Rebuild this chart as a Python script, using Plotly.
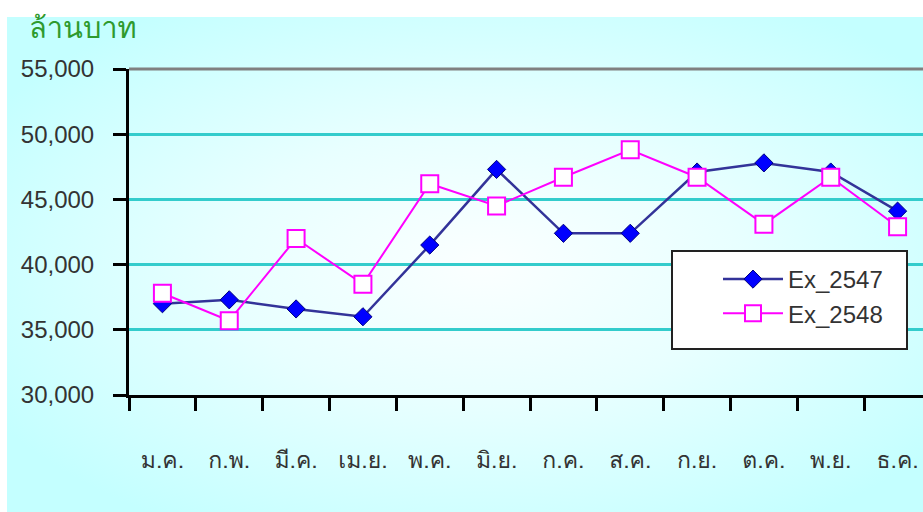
import base64
import plotly.graph_objects as go

# Monthly values, million baht
months = ["ม.ค.", "ก.พ.", "มี.ค.", "เม.ย.", "พ.ค.", "มิ.ย.",
          "ก.ค.", "ส.ค.", "ก.ย.", "ต.ค.", "พ.ย.", "ธ.ค."]
ex_2547 = [37000, 37300, 36600, 36000, 41500, 47300,
           42400, 42400, 47100, 47800, 47100, 44100]
ex_2548 = [37800, 35700, 42000, 38500, 46200, 44500,
           46700, 48800, 46700, 43100, 46700, 42900]
y_ticks = [30000, 35000, 40000, 45000, 50000, 55000]
y_tick_text = ["30,000", "35,000", "40,000", "45,000", "50,000", "55,000"]

W, H = 923, 512
L, T, B = 129, 69, 395  # plot area edges in pixels

# Soft radial cyan backdrop behind the chart
svg = (
    f"<svg xmlns='http://www.w3.org/2000/svg' width='{W}' height='{H}'>"
    "<defs><radialGradient id='g' cx='0.52' cy='0.5' r='0.62'>"
    "<stop offset='0' stop-color='#fbffff'/>"
    "<stop offset='0.45' stop-color='#e8ffff'/>"
    "<stop offset='1' stop-color='#c4ffff'/>"
    "</radialGradient></defs>"
    f"<rect x='7' y='17' width='{W - 7}' height='{H - 17}' fill='url(#g)'/></svg>"
)
bg_uri = "data:image/svg+xml;base64," + base64.b64encode(svg.encode()).decode()

thai_family = ("Tahoma, Loma, Garuda, Kinnari, Norasi, Waree, Sarabun, "
               "'Noto Sans Thai Looped', 'Noto Sans Thai', 'DejaVu Sans', sans-serif")
tick_font = dict(family="Liberation Sans, Arial, sans-serif", size=24, color="#333333")
thai_font = dict(family=thai_family, size=23, color="#333333")

fig = go.Figure()
fig.add_trace(go.Scatter(
    x=months, y=ex_2547, name="Ex_2547", mode="lines+markers",
    line=dict(color="#333399", width=2.5),
    marker=dict(symbol="diamond", size=14, color="#0000ff",
                line=dict(color="#000080", width=1)),
))
fig.add_trace(go.Scatter(
    x=months, y=ex_2548, name="Ex_2548", mode="lines+markers",
    line=dict(color="#ff00ff", width=2),
    marker=dict(symbol="square", size=17, color="#ffffff",
                line=dict(color="#ff00ff", width=2)),
))

x_hi = -0.5 + (W - L) / ((W + 8 - L) / 12)

fig.update_layout(
    width=W, height=H,
    margin=dict(l=0, r=0, t=0, b=0, autoexpand=False),
    paper_bgcolor="#ffffff",
    plot_bgcolor="rgba(0,0,0,0)",
    showlegend=True,
    legend=dict(
        x=718 / W, y=1 - 257 / H, xanchor="left", yanchor="top",
        bgcolor="rgba(0,0,0,0)", borderwidth=0,
        font=dict(family="Liberation Sans, Arial, sans-serif", size=24, color="#333333"),
        itemwidth=60, tracegroupgap=0,
    ),
    xaxis=dict(
        domain=[L / W, 1], range=[-0.5, x_hi], automargin=False,
        type="category", tickson="boundaries",
        showline=True, linecolor="#000000", linewidth=3,
        ticks="outside", ticklen=13, tickwidth=3, tickcolor="#000000",
        showgrid=False, tickfont=thai_font, ticklabelstandoff=42,
    ),
    yaxis=dict(
        domain=[1 - B / H, 1 - T / H], range=[30000, 55000], automargin=False,
        tickvals=y_ticks, ticktext=y_tick_text,
        showline=True, linecolor="#000000", linewidth=3,
        ticks="outside", ticklen=13, tickwidth=3, tickcolor="#000000",
        showgrid=True, gridcolor="#33cccc", gridwidth=3,
        zeroline=False, tickfont=tick_font, ticklabelstandoff=14,
    ),
    images=[dict(
        source=bg_uri, xref="paper", yref="paper", x=0, y=1,
        sizex=1, sizey=1, xanchor="left", yanchor="top",
        sizing="stretch", layer="below",
    )],
    shapes=[
        # grey top rule at the axis maximum
        dict(type="line", xref="x domain", yref="y domain",
             x0=0, x1=1, y0=1, y1=1, line=dict(color="#808080", width=3),
             layer="above"),
        # legend frame
        dict(type="rect", xref="paper", yref="paper",
             x0=672 / W, x1=907 / W, y0=1 - 349 / H, y1=1 - 251 / H,
             fillcolor="#ffffff", line=dict(color="#222222", width=2),
             layer="above"),
    ],
    annotations=[dict(
        text="ล้านบาท", xref="paper", yref="paper",
        x=27 / W, y=1 - 28 / H, xanchor="left", yanchor="middle",
        showarrow=False,
        font=dict(family=thai_family, size=29, color="#2e9a2e"),
    )],
)

fig.write_html("out.html")
